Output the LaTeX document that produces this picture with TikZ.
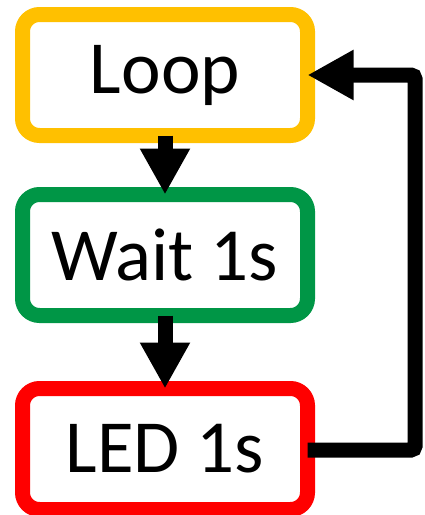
\documentclass[tikz,border=0pt]{standalone}
\usepackage{fontspec}
\setmainfont{Carlito}
\usetikzlibrary{arrows.meta}
\definecolor{boxorange}{RGB}{255,192,0}
\definecolor{boxgreen}{RGB}{0,150,70}
\definecolor{boxred}{RGB}{255,0,0}
\tikzset{
  stepbox/.style={draw, line width=15pt, rounded corners=17pt, fill=white,
    minimum width=285pt, minimum height=121pt, outer sep=0pt, inner sep=0pt,
    font=\fontsize{75}{90}\selectfont},
  flow/.style={line width=15pt, -{Triangle[length=46pt,width=47pt]}},
}
\begin{document}
\begin{tikzpicture}[x=1pt,y=1pt]
  \useasboundingbox (0,0) rectangle (425,-515);
  \node[stepbox, draw=boxorange] (loop) at (165,-75) {Loop};
  \node[stepbox, draw=boxgreen] (wait) at (165,-255) {Wait 1s};
  \node[stepbox, draw=boxred] (led) at (165,-449) {LED 1s};
  \draw[flow] (loop.south) -- (wait.north);
  \draw[flow] (wait.south) -- (led.north);
  \coordinate (rb) at (415,-450);
  \coordinate (rt) at (415,-75);
  \draw[flow, rounded corners=4pt] (led.east |- rb) -- (rb) -- (rt) -- (loop.east);
\end{tikzpicture}
\end{document}
